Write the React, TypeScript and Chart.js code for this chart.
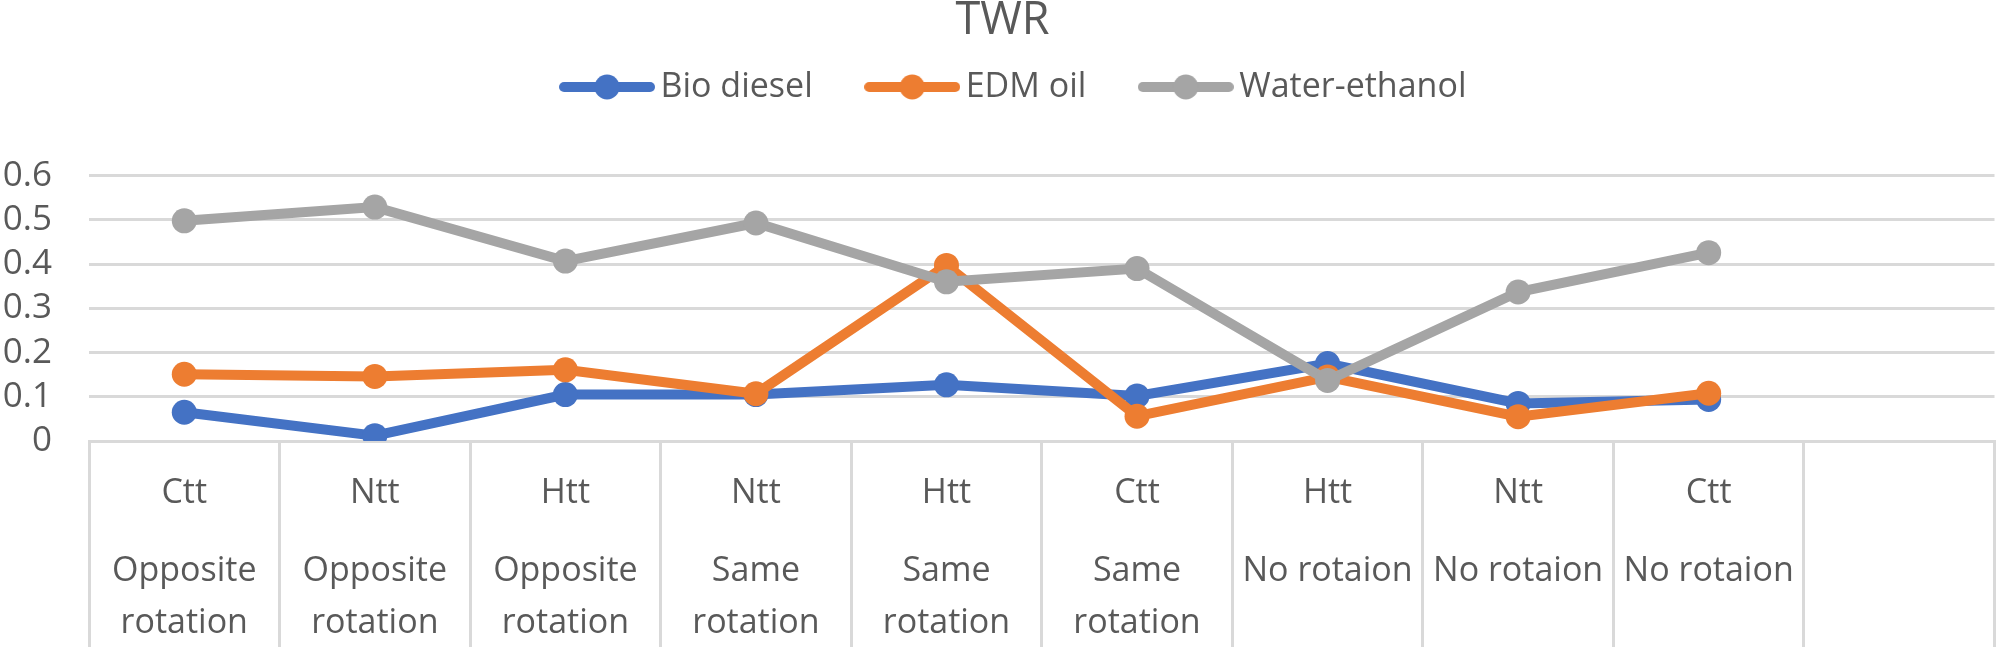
import React, { useEffect, useRef } from "react";
import { Chart, registerables } from "chart.js";

Chart.register(...registerables);

const innerLabels = ["Ctt", "Ntt", "Htt", "Ntt", "Htt", "Ctt", "Htt", "Ntt", "Ctt", ""];
const outerLabels = [
  ["Opposite", "rotation"],
  ["Opposite", "rotation"],
  ["Opposite", "rotation"],
  ["Same", "rotation"],
  ["Same", "rotation"],
  ["Same", "rotation"],
  ["No rotaion"],
  ["No rotaion"],
  ["No rotaion"],
  [],
];

const bioDiesel = [0.065, 0.012, 0.105, 0.105, 0.127, 0.102, 0.175, 0.085, 0.094];
const edmOil = [0.151, 0.146, 0.161, 0.107, 0.397, 0.056, 0.145, 0.055, 0.108];
const waterEthanol = [0.498, 0.529, 0.407, 0.493, 0.36, 0.39, 0.137, 0.337, 0.426];

const yTicks = { min: 0, max: 0.6, step: 0.1 };

const seriesNames = ["Bio diesel", "EDM oil", "Water-ethanol"];
const seriesColors = ["#4472C4", "#ED7D31", "#A5A5A5"];

const FONT = "'Open Sans', 'Noto Sans', sans-serif";
const TEXT = "#595959";
const GRID = "#D9D9D9";

function makeMarker(color: string): HTMLCanvasElement {
  const c = document.createElement("canvas");
  c.width = 96;
  c.height = 28;
  const ctx = c.getContext("2d")!;
  ctx.strokeStyle = color;
  ctx.lineWidth = 10;
  ctx.lineCap = "round";
  ctx.beginPath();
  ctx.moveTo(5, 14);
  ctx.lineTo(91, 14);
  ctx.stroke();
  ctx.fillStyle = color;
  ctx.beginPath();
  ctx.arc(48, 14, 12.5, 0, Math.PI * 2);
  ctx.fill();
  return c;
}

export default function App() {
  const ref = useRef<HTMLCanvasElement | null>(null);

  useEffect(() => {
    document.body.style.margin = "0";
    const canvas = ref.current;
    if (!canvas) return;

    const labels = innerLabels.map((inner, i) => {
      const outer = outerLabels[i];
      const lines: string[] = [inner, "", ""];
      if (outer.length === 2) lines.push(outer[0], "", outer[1]);
      else if (outer.length === 1) lines.push(outer[0]);
      return lines;
    });

    const seriesData = [bioDiesel, edmOil, waterEthanol];
    const markers = seriesColors.map(makeMarker);

    const layoutTweaks = {
      id: "layoutTweaks",
      beforeLayout(chart: any) {
        const lg = chart.legend;
        if (lg && !lg.__patched) {
          lg.__patched = true;
          const orig = lg.fit;
          lg.fit = function () {
            orig.call(this);
            this.height = 168.7;
          };
        }
      },
      afterLayout(chart: any) {
        const lg = chart.legend;
        if (lg) {
          lg.left += 16;
          lg.right += 16;
        }
      },
    };

    const chart = new Chart(canvas, {
      type: "line",
      data: {
        labels,
        datasets: seriesNames.map((name, i) => ({
          label: name,
          data: seriesData[i],
          borderColor: seriesColors[i],
          backgroundColor: seriesColors[i],
          borderWidth: 10,
          pointRadius: 12.5,
          pointHoverRadius: 12.5,
          pointBorderWidth: 0,
          pointBackgroundColor: seriesColors[i],
          tension: 0,
          fill: false,
          order: 2 - i,
        })),
      },
      options: {
        responsive: true,
        maintainAspectRatio: false,
        animation: false,
        layout: { padding: { left: 0, right: 2, top: 0, bottom: 0 } },
        plugins: {
          tooltip: { enabled: false },
          title: {
            display: true,
            text: "TWR",
            color: TEXT,
            font: { family: FONT, size: 45, weight: "normal", lineHeight: 0.8 },
            padding: { top: 3, bottom: -32 },
          },
          legend: {
            display: true,
            position: "top",
            labels: {
              color: TEXT,
              font: { family: FONT, size: 34 },
              usePointStyle: true,
              pointStyleWidth: 73,
              padding: 63,
              generateLabels: () =>
                seriesNames.map((name, i) => ({
                  text: name,
                  fillStyle: seriesColors[i],
                  strokeStyle: seriesColors[i],
                  lineWidth: 0,
                  pointStyle: markers[i],
                  datasetIndex: i,
                  hidden: false,
                  fontColor: TEXT,
                })),
            },
          },
        },
        scales: {
          x: {
            offset: true,
            grid: {
              offset: true,
              drawOnChartArea: false,
              drawTicks: true,
              tickLength: 206,
              tickColor: GRID,
              tickWidth: 3,
              color: GRID,
              lineWidth: 3,
            },
            border: { display: true, color: GRID, width: 3 },
            ticks: {
              autoSkip: false,
              maxRotation: 0,
              minRotation: 0,
              padding: -167,
              color: TEXT,
              font: { family: FONT, size: 34, lineHeight: "26px" },
            },
            afterFit: (scale: any) => {
              scale.height = 206;
            },
          },
          y: {
            min: yTicks.min,
            max: yTicks.max,
            grid: { color: GRID, lineWidth: 3, drawTicks: false },
            border: { display: false },
            ticks: {
              stepSize: yTicks.step,
              autoSkip: false,
              padding: 37,
              color: TEXT,
              font: { family: FONT, size: 35 },
            },
            afterFit: (scale: any) => {
              scale.width = 89;
            },
          },
        },
      },
      plugins: [layoutTweaks],
    } as any);

    return () => chart.destroy();
  }, []);

  return (
    <div style={{ position: "relative", width: "2007px", height: "647px", background: "#fff" }}>
      <canvas ref={ref} />
    </div>
  );
}
